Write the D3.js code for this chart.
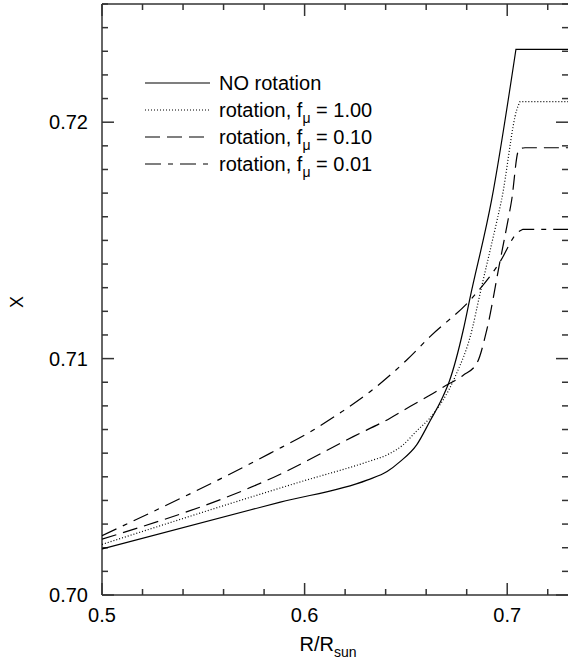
<!DOCTYPE html>
<html>
<head>
<meta charset="utf-8">
<script src="https://cdn.jsdelivr.net/npm/d3@7"></script>
<style>
  body { margin: 0; background: #fff; }
  svg text { font-family: "Liberation Sans", Arial, sans-serif; fill: #000; }
</style>
</head>
<body>
<div id="chart"></div>
<script>
const width = 568;
const height = 662;
const marginTop = 4;
const marginLeft = 102;
const plotRight = 568;
const plotBottom = 595;

// radius R/Rsun and hydrogen abundance X
const rNoRot = [0.500, 0.588, 0.6308, 0.6407, 0.6471, 0.6553, 0.6619, 0.6677, 0.6713, 0.6783, 0.6816, 0.6923, 0.7043, 0.730];
const xNoRot = [0.70195, 0.70393, 0.70486, 0.70522, 0.70564, 0.70635, 0.70736, 0.70829, 0.70901, 0.71121, 0.71255, 0.71671, 0.72308, 0.72308];

const rF100 = [0.500, 0.5977, 0.6323, 0.6405, 0.6486, 0.6553, 0.6619, 0.6742, 0.6826, 0.6861, 0.6950, 0.6972, 0.7047, 0.7063, 0.730];
const xF100 = [0.70214, 0.70478, 0.70567, 0.70592, 0.70635, 0.70694, 0.70749, 0.70922, 0.71121, 0.71256, 0.71586, 0.71671, 0.72052, 0.72087, 0.72087];

const rF010 = [0.500, 0.588, 0.624, 0.642, 0.652, 0.662, 0.6685, 0.6783, 0.685, 0.6899, 0.6964, 0.7004, 0.7022, 0.7053, 0.7065, 0.7088, 0.730];
const xF010 = [0.70236, 0.70511, 0.70670, 0.70747, 0.70797, 0.70846, 0.70880, 0.70930, 0.70980, 0.71121, 0.71410, 0.71586, 0.71671, 0.71875, 0.71889, 0.71892, 0.71892];

const rF001 = [0.500, 0.5829, 0.6043, 0.6183, 0.6323, 0.6504, 0.6619, 0.6825, 0.6965, 0.7047, 0.7078, 0.730];
const xF001 = [0.70251, 0.70599, 0.70698, 0.70775, 0.70860, 0.70994, 0.71093, 0.71255, 0.71410, 0.71530, 0.71547, 0.71547];

const seriesNames = ["NO rotation", "rotation, f", "rotation, f", "rotation, f"];
const seriesFmu = [null, "1.00", "0.10", "0.01"];
const seriesDash = [null, "1,2", "15,7", "16,7,5,7"];

const xTicks = [0.5, 0.6, 0.7];
const yTicks = [0.70, 0.71, 0.72];

const seriesData = [
    d3.zip(rNoRot, xNoRot),
    d3.zip(rF100, xF100),
    d3.zip(rF010, xF010),
    d3.zip(rF001, xF001)
];

const svg = d3.select("#chart")
    .append("svg")
    .attr("width", width)
    .attr("height", height)
    .attr("viewBox", [0, 0, width, height]);

const x = d3.scaleLinear([0.5, 0.73], [marginLeft, plotRight]);
const y = d3.scaleLinear([0.70, 0.725], [plotBottom, marginTop]);

svg.append("clipPath").attr("id", "plotClip")
    .append("rect")
    .attr("x", marginLeft).attr("y", marginTop)
    .attr("width", plotRight - marginLeft).attr("height", plotBottom - marginTop);

// frame ticks: every 0.02 in R, every 0.001 in X, longer at the labelled values
const axisColor = "#333";
const minorX = d3.range(0, 12).map(i => +(0.5 + i * 0.02).toFixed(2));
const minorY = d3.range(0, 26).map(i => +(0.70 + i * 0.001).toFixed(3));
const isMajor = (v, list) => list.some(t => Math.abs(t - v) < 1e-9);

const frame = svg.append("g").attr("stroke", axisColor).attr("stroke-width", 1.5);

frame.append("line").attr("x1", marginLeft).attr("x2", plotRight + 2).attr("y1", plotBottom).attr("y2", plotBottom);
frame.append("line").attr("x1", marginLeft).attr("x2", plotRight + 2).attr("y1", marginTop).attr("y2", marginTop);
frame.append("line").attr("x1", marginLeft).attr("x2", marginLeft).attr("y1", marginTop).attr("y2", plotBottom);

minorX.forEach(v => {
    const len = isMajor(v, xTicks) ? 12 : 6;
    frame.append("line").attr("x1", x(v)).attr("x2", x(v)).attr("y1", plotBottom).attr("y2", plotBottom - len);
    frame.append("line").attr("x1", x(v)).attr("x2", x(v)).attr("y1", marginTop).attr("y2", marginTop + len);
});
minorY.forEach(v => {
    const len = isMajor(v, yTicks) ? 12 : 6;
    frame.append("line").attr("x1", marginLeft).attr("x2", marginLeft + len).attr("y1", y(v)).attr("y2", y(v));
    frame.append("line").attr("x1", plotRight).attr("x2", plotRight - len).attr("y1", y(v)).attr("y2", y(v));
});

// tick labels
svg.append("g").selectAll("text")
    .data(xTicks)
    .join("text")
    .attr("x", d => x(d))
    .attr("y", 622)
    .attr("text-anchor", "middle")
    .style("font-size", "20px")
    .text(d => d3.format(".1f")(d));

svg.append("g").selectAll("text")
    .data(yTicks)
    .join("text")
    .attr("x", 88)
    .attr("y", d => y(d) + 7)
    .attr("text-anchor", "end")
    .style("font-size", "20px")
    .text(d => d3.format(".2f")(d));

// axis titles
const xTitle = svg.append("text")
    .attr("x", 328)
    .attr("y", 651)
    .attr("text-anchor", "middle")
    .style("font-size", "20px");
xTitle.append("tspan").text("R/R");
xTitle.append("tspan").attr("dy", 6).style("font-size", "14px").text("sun");

svg.append("text")
    .attr("transform", "translate(23,302) rotate(-90)")
    .attr("text-anchor", "middle")
    .style("font-size", "18px")
    .text("X");

// curves: smooth up to the top of the steep rise, then a straight flat part
const line = d3.line()
    .x(d => x(d[0]))
    .y(d => y(d[1]))
    .curve(d3.curveMonotoneX);

const curvePath = d => {
    const last = d[d.length - 1];
    return line(d.slice(0, -1)) + `L${x(last[0])},${y(last[1])}`;
};

svg.append("g")
    .attr("clip-path", "url(#plotClip)")
    .selectAll("path")
    .data(seriesData)
    .join("path")
    .attr("fill", "none")
    .attr("stroke", "#000")
    .attr("stroke-width", 1.2)
    .attr("stroke-dasharray", (d, i) => seriesDash[i])
    .attr("d", curvePath);

// legend
const legendItem = svg.append("g")
    .attr("class", "legend")
    .selectAll(".legend-item")
    .data(seriesNames)
    .join("g")
    .attr("class", "legend-item")
    .attr("transform", (d, i) => `translate(145, ${83 + i * 27})`);

legendItem.append("line")
    .attr("x1", 0).attr("x2", 65)
    .attr("stroke", "#000")
    .attr("stroke-width", 1.2)
    .attr("stroke-dasharray", (d, i) => seriesDash[i]);

legendItem.append("text")
    .attr("x", 74)
    .attr("y", 7)
    .style("font-size", "20px")
    .append("tspan").text(d => d);

legendItem.each(function (d, i) {
    if (seriesFmu[i] === null) return;
    const t = d3.select(this).select("text");
    t.append("tspan").attr("dy", 6).style("font-size", "14px").text("\u03bc");
    t.append("tspan").attr("dy", -6).text(" = " + seriesFmu[i]);
});
</script>
</body>
</html>
